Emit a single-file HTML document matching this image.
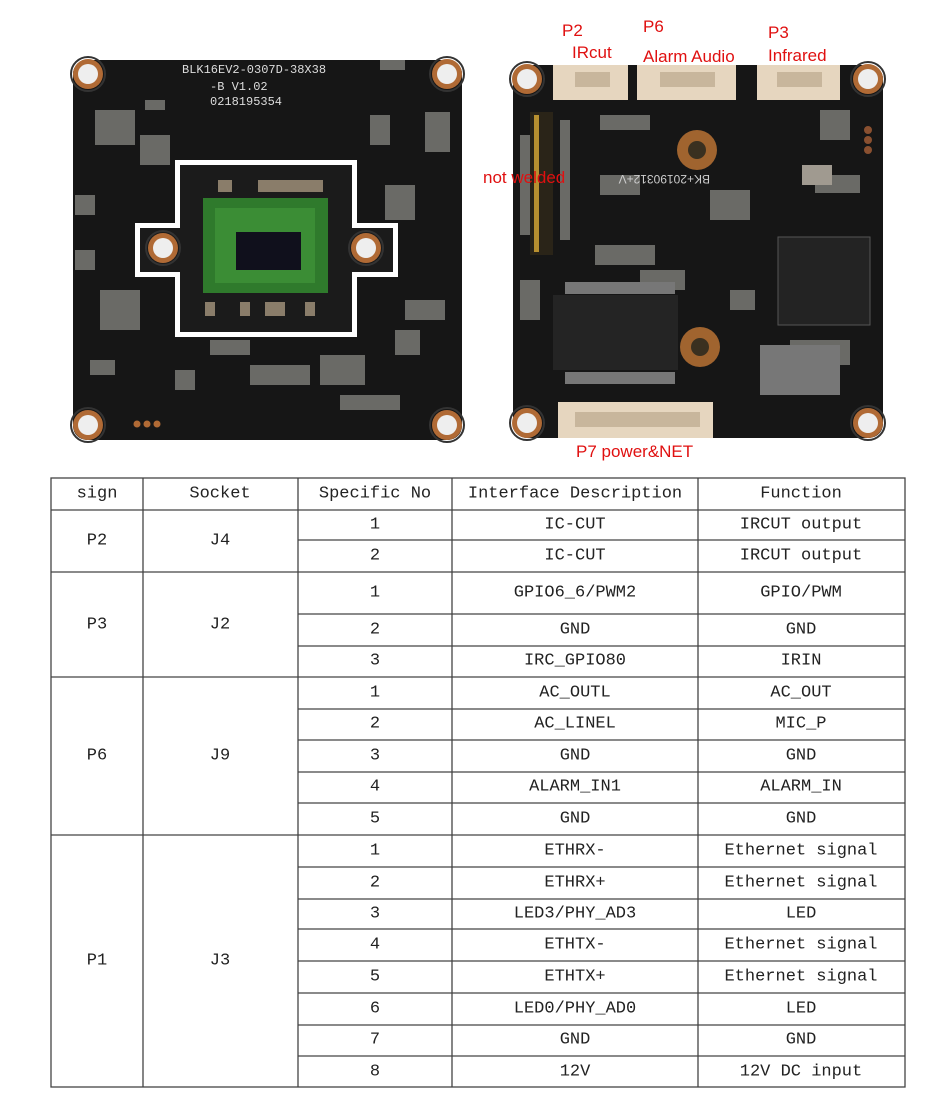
<!DOCTYPE html>
<html><head><meta charset="utf-8"><style>
html,body{margin:0;padding:0;background:#fff;}
svg{display:block;}
.t{font-family:"Liberation Mono",monospace;font-size:17px;fill:#222;text-anchor:middle;dominant-baseline:central;}
.r{font-family:"Liberation Sans",sans-serif;font-size:17px;fill:#e01010;}
</style></head><body>
<svg width="950" height="1120" viewBox="0 0 950 1120" xmlns="http://www.w3.org/2000/svg">
<defs>
<g id="hole"><circle r="15" fill="#b06a35"/><circle r="10" fill="#eee"/><circle r="17" fill="none" stroke="#333" stroke-width="2"/></g>
</defs>
<!-- LEFT BOARD -->
<rect x="73" y="60" width="389" height="380" rx="14" fill="#161616"/>
<g fill="#6a6a66">
<rect x="95" y="110" width="40" height="35"/><rect x="140" y="135" width="30" height="30"/><rect x="145" y="100" width="20" height="10"/>
<rect x="100" y="290" width="40" height="40"/><rect x="90" y="360" width="25" height="15"/><rect x="175" y="370" width="20" height="20"/>
<rect x="370" y="115" width="20" height="30"/><rect x="385" y="185" width="30" height="35"/><rect x="425" y="112" width="25" height="40"/>
<rect x="395" y="330" width="25" height="25"/><rect x="250" y="365" width="60" height="20"/><rect x="320" y="355" width="45" height="30"/>
<rect x="210" y="340" width="40" height="15"/><rect x="340" y="395" width="60" height="15"/><rect x="405" y="300" width="40" height="20"/>
<rect x="380" y="60" width="25" height="10"/><rect x="75" y="195" width="20" height="20"/><rect x="75" y="250" width="20" height="20"/>
</g>
<text x="182" y="73" font-family="Liberation Mono,monospace" font-size="12" fill="#ddd">BLK16EV2-0307D-38X38</text>
<text x="210" y="90" font-family="Liberation Mono,monospace" font-size="12" fill="#ddd">-B V1.02</text>
<text x="210" y="105" font-family="Liberation Mono,monospace" font-size="12" fill="#ddd">0218195354</text>
<path d="M175 160 H357 V223 H398 V277 H357 V337 H175 V277 H135 V223 H175 Z" fill="#fff"/>
<path d="M180 165 H352 V228 H393 V272 H352 V332 H180 V272 H140 V228 H180 Z" fill="#1b1b1b"/>
<rect x="203" y="198" width="125" height="95" fill="#2f7a2c"/>
<rect x="215" y="208" width="100" height="75" fill="#3b8d35"/>
<rect x="236" y="232" width="65" height="38" fill="#10101c"/>
<g fill="#8a7d6a"><rect x="218" y="180" width="14" height="12"/><rect x="258" y="180" width="65" height="12"/><rect x="205" y="302" width="10" height="14"/><rect x="240" y="302" width="10" height="14"/><rect x="265" y="302" width="20" height="14"/><rect x="305" y="302" width="10" height="14"/></g>
<use href="#hole" x="163" y="248"/><use href="#hole" x="366" y="248"/>
<use href="#hole" x="88" y="74"/><use href="#hole" x="447" y="74"/><use href="#hole" x="88" y="425"/><use href="#hole" x="447" y="425"/>
<g fill="#b06a35"><circle cx="137" cy="424" r="3.5"/><circle cx="147" cy="424" r="3.5"/><circle cx="157" cy="424" r="3.5"/></g>
<!-- RIGHT BOARD -->
<rect x="513" y="65" width="370" height="373" rx="14" fill="#161616"/>
<g fill="#6a6a66">
<rect x="520" y="135" width="10" height="100"/><rect x="560" y="120" width="10" height="120"/><rect x="520" y="280" width="20" height="40"/>
<rect x="595" y="245" width="60" height="20"/><rect x="640" y="270" width="45" height="20"/><rect x="710" y="190" width="40" height="30"/>
<rect x="815" y="175" width="45" height="18"/><rect x="790" y="340" width="60" height="25"/><rect x="600" y="115" width="50" height="15"/>
<rect x="730" y="290" width="25" height="20"/><rect x="820" y="110" width="30" height="30"/><rect x="600" y="175" width="40" height="20"/>
</g>
<rect x="530" y="112" width="23" height="143" fill="#2a2418"/><rect x="534" y="115" width="5" height="137" fill="#b89030"/>
<rect x="553" y="295" width="125" height="75" fill="#242424"/>
<g fill="#777"><rect x="565" y="282" width="110" height="12"/><rect x="565" y="372" width="110" height="12"/><rect x="760" y="345" width="80" height="50"/></g>
<rect x="778" y="237" width="92" height="88" fill="#232323" stroke="#555"/>
<rect x="802" y="165" width="30" height="20" fill="#a09a90"/>
<text x="790" y="185" font-family="Liberation Sans,sans-serif" font-size="12" fill="#ccc" transform="rotate(180 750 180)">BK+20190312+V</text>
<rect x="553" y="65" width="75" height="35" fill="#e6d6bf"/><rect x="637" y="65" width="99" height="35" fill="#e6d6bf"/><rect x="757" y="65" width="83" height="35" fill="#e6d6bf"/>
<rect x="558" y="402" width="155" height="36" fill="#e6d6bf"/>
<g fill="#c8b69c"><rect x="575" y="72" width="35" height="15"/><rect x="660" y="72" width="55" height="15"/><rect x="777" y="72" width="45" height="15"/><rect x="575" y="412" width="125" height="15"/></g>
<g><circle cx="697" cy="150" r="20" fill="#a0642f"/><circle cx="697" cy="150" r="9" fill="#3a3020"/><circle cx="700" cy="347" r="20" fill="#a0642f"/><circle cx="700" cy="347" r="9" fill="#3a3020"/></g>
<use href="#hole" x="527" y="79"/><use href="#hole" x="868" y="79"/><use href="#hole" x="527" y="423"/><use href="#hole" x="868" y="423"/>
<g fill="#8a5030"><circle cx="868" cy="130" r="4"/><circle cx="868" cy="140" r="4"/><circle cx="868" cy="150" r="4"/></g>
<text class="r" x="562" y="36">P2</text><text class="r" x="572" y="58">IRcut</text>
<text class="r" x="643" y="32">P6</text><text class="r" x="643" y="62">Alarm Audio</text>
<text class="r" x="768" y="38">P3</text><text class="r" x="768" y="61">Infrared</text>
<text class="r" x="483" y="183">not welded</text>
<text class="r" x="576" y="457">P7 power&amp;NET</text>
<!-- TABLE -->
<g stroke="#444" stroke-width="1.3" fill="none">
<rect x="51" y="478" width="854" height="609"/>
<line x1="51" y1="510" x2="905" y2="510"/>
<line x1="51" y1="572" x2="905" y2="572"/><line x1="51" y1="677" x2="905" y2="677"/><line x1="51" y1="835" x2="905" y2="835"/>
<line x1="143" y1="478" x2="143" y2="1087"/><line x1="298" y1="478" x2="298" y2="1087"/><line x1="452" y1="478" x2="452" y2="1087"/><line x1="698" y1="478" x2="698" y2="1087"/>
<path d="M298 540H905M298 614H905M298 646H905M298 709H905M298 740H905M298 772H905M298 803H905M298 867H905M298 899H905M298 929H905M298 961H905M298 993H905M298 1025H905M298 1056H905"/>
</g>
<g class="t">
<text x="97" y="494">sign</text><text x="220" y="494">Socket</text><text x="375" y="494">Specific No</text><text x="575" y="494">Interface Description</text><text x="801" y="494">Function</text>
<text x="97" y="541">P2</text><text x="220" y="541">J4</text>
<text x="97" y="625">P3</text><text x="220" y="625">J2</text>
<text x="97" y="756">P6</text><text x="220" y="756">J9</text>
<text x="97" y="961">P1</text><text x="220" y="961">J3</text>
<text x="375" y="525">1</text><text x="575" y="525">IC-CUT</text><text x="801" y="525">IRCUT output</text>
<text x="375" y="556">2</text><text x="575" y="556">IC-CUT</text><text x="801" y="556">IRCUT output</text>
<text x="375" y="593">1</text><text x="575" y="593">GPIO6_6/PWM2</text><text x="801" y="593">GPIO/PWM</text>
<text x="375" y="630">2</text><text x="575" y="630">GND</text><text x="801" y="630">GND</text>
<text x="375" y="661">3</text><text x="575" y="661">IRC_GPIO80</text><text x="801" y="661">IRIN</text>
<text x="375" y="693">1</text><text x="575" y="693">AC_OUTL</text><text x="801" y="693">AC_OUT</text>
<text x="375" y="724">2</text><text x="575" y="724">AC_LINEL</text><text x="801" y="724">MIC_P</text>
<text x="375" y="756">3</text><text x="575" y="756">GND</text><text x="801" y="756">GND</text>
<text x="375" y="787">4</text><text x="575" y="787">ALARM_IN1</text><text x="801" y="787">ALARM_IN</text>
<text x="375" y="819">5</text><text x="575" y="819">GND</text><text x="801" y="819">GND</text>
<text x="375" y="851">1</text><text x="575" y="851">ETHRX-</text><text x="801" y="851">Ethernet signal</text>
<text x="375" y="883">2</text><text x="575" y="883">ETHRX+</text><text x="801" y="883">Ethernet signal</text>
<text x="375" y="914">3</text><text x="575" y="914">LED3/PHY_AD3</text><text x="801" y="914">LED</text>
<text x="375" y="945">4</text><text x="575" y="945">ETHTX-</text><text x="801" y="945">Ethernet signal</text>
<text x="375" y="977">5</text><text x="575" y="977">ETHTX+</text><text x="801" y="977">Ethernet signal</text>
<text x="375" y="1009">6</text><text x="575" y="1009">LED0/PHY_AD0</text><text x="801" y="1009">LED</text>
<text x="375" y="1040">7</text><text x="575" y="1040">GND</text><text x="801" y="1040">GND</text>
<text x="375" y="1072">8</text><text x="575" y="1072">12V</text><text x="801" y="1072">12V DC input</text>
</g>
</svg>
</body></html>
